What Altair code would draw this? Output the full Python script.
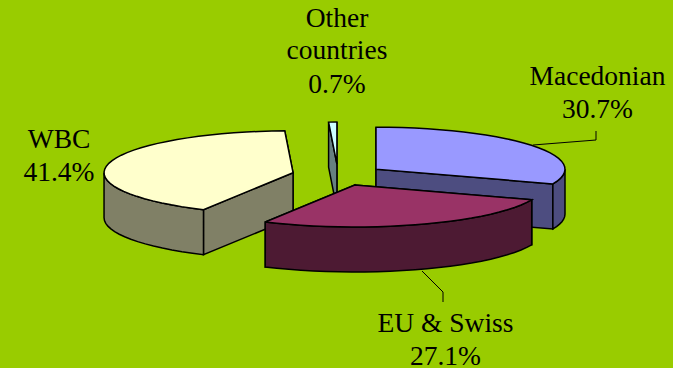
import math
import altair as alt

# Shares of each origin group, listed clockwise from twelve o'clock
groups = ["Macedonian", "EU & Swiss", "WBC", "Other countries"]
shares = [30.7, 27.1, 41.4, 0.7]
top_colors = ["#9999FF", "#993366", "#FFFFCC", "#CCFFFF"]
side_colors = ["#4D4D80", "#4D1A33", "#808066", "#668080"]
# Painter's order: the slices at the back are drawn first
paint_order = [3, 2, 0, 1]

# Tilted-pie geometry, in pixels
RX, RY, DEPTH = 189.0, 42.0, 45.0
CX, CY = 338.0, 175.0
EXPLODE = [0.2445, 0.254, 0.244, 0.26]
STEP = 4.0


def rim(apex, deg, drop=0.0):
    a = math.radians(deg)
    return [apex[0] + RX * math.sin(a), apex[1] - RY * math.cos(a) + drop]


def arc(apex, start, end, drop=0.0):
    n = max(1, int(math.ceil((end - start) / STEP)))
    return [rim(apex, start + (end - start) * i / n, drop) for i in range(n + 1)]


def face(ring, fill):
    ring = ring + [ring[0]]
    return {
        "type": "Feature",
        "geometry": {"type": "Polygon", "coordinates": [ring]},
        "properties": {"fill": fill},
    }


def slice_faces(i, start, end):
    mid = math.radians((start + end) / 2)
    k = EXPLODE[i]
    apex = [CX + k * RX * math.sin(mid), CY - k * RY * math.cos(mid)]
    low = [apex[0], apex[1] + DEPTH]
    side, top = side_colors[i], top_colors[i]

    def wall(deg):
        return face([apex, rim(apex, deg), rim(apex, deg, DEPTH), low], side)

    # Back radial wall first, the nearer one over it
    walls = sorted([start, end], key=lambda d: rim(apex, d)[1])
    out = [wall(d) for d in walls]
    # Outer wall only on the near half of the ellipse
    lo, hi = max(start, 90.0), min(end, 270.0)
    if lo < hi:
        out.append(face(arc(apex, lo, hi) + arc(apex, lo, hi, DEPTH)[::-1], side))
    out.append(face([apex] + arc(apex, start, end), top))
    return out


spans = []
angle = 0.0
total = sum(shares)
for s in shares:
    spans.append((angle, angle + 360.0 * s / total))
    angle = spans[-1][1]

features = []
for i in paint_order:
    features.extend(slice_faces(i, *spans[i]))

pie = (
    alt.Chart(
        alt.InlineData(
            values={"type": "FeatureCollection", "features": features},
            format=alt.DataFormat(property="features", type="json"),
        )
    )
    .mark_geoshape(stroke="black", strokeWidth=1.5, strokeJoin="miter")
    .encode(fill=alt.Fill("properties.fill:N", scale=None))
    .project(type="identity", scale=1, translate=[0, 0])
)

# Leader lines from the labels to their slices
leaders = [
    {"x": 533, "y": 145, "x2": 596, "y2": 140},
    {"x": 596, "y": 140, "x2": 596, "y2": 131},
    {"x": 422, "y": 271, "x2": 443, "y2": 292},
    {"x": 443, "y": 292, "x2": 443, "y2": 302},
]
leader_layers = [
    alt.Chart(alt.Data(values=[{"k": 0}]))
    .mark_rule(color="black", strokeWidth=1)
    .encode(
        x=alt.value(d["x"]), x2=alt.value(d["x2"]),
        y=alt.value(d["y"]), y2=alt.value(d["y2"]),
    )
    for d in leaders
]

# Label lines: slice name(s) above the share
label_places = {
    "Macedonian": (597.5, [85, 118]),
    "EU & Swiss": (445.5, [332, 365]),
    "WBC": (59, [148, 181]),
    "Other countries": (337, [27, 59, 93]),
}
label_rows = []
for name, share in zip(groups, shares):
    x, ys = label_places[name]
    lines = name.split(" ") if name == "Other countries" else [name]
    lines = lines + [f"{share:.1f}%"]
    for line, y in zip(lines, ys):
        label_rows.append({"text": line, "px": x, "py": y})

labels = (
    alt.Chart(alt.Data(values=label_rows))
    .mark_text(font="Liberation Serif", fontSize=27.5, color="black", align="center", baseline="alphabetic")
    .encode(
        x=alt.X("px:Q", scale=None, axis=None),
        y=alt.Y("py:Q", scale=None, axis=None),
        text="text:N",
    )
)

chart = (
    alt.layer(pie, *leader_layers, labels)
    .properties(
        width=673,
        height=368,
        background="#99CC00",
        padding=0,
        autosize=alt.AutoSizeParams(type="none"),
    )
    .configure_view(stroke=None)
)

chart.save("out.html", embed_options={"renderer": "svg", "actions": False})
